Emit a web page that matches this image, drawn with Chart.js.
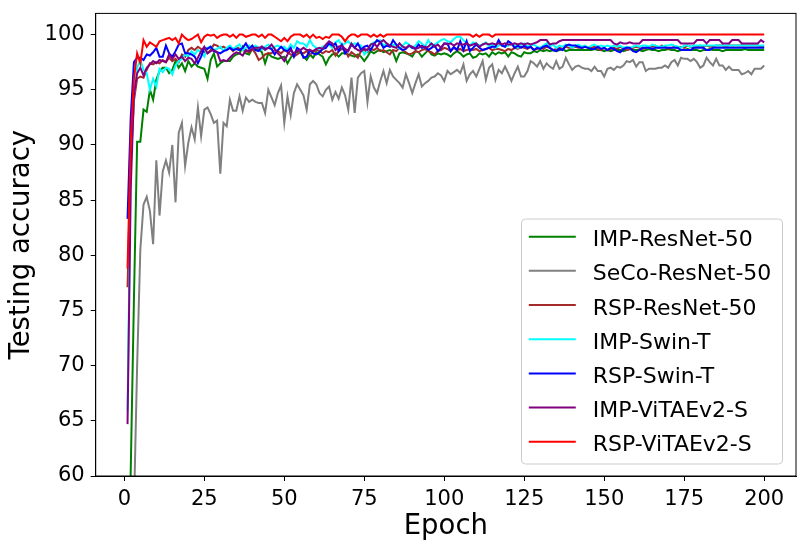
<!DOCTYPE html>
<html>
<head>
<meta charset="utf-8">
<title>Testing accuracy per epoch</title>
<script src="https://cdn.jsdelivr.net/npm/chart.js@4.4.1/dist/chart.umd.min.js"></script>
<style>
  html, body { margin: 0; padding: 0; background: #fff; }
  #wrap { width: 806px; height: 551px; }
</style>
</head>
<body>
<div id="wrap"><canvas id="accChart" width="806" height="551"></canvas></div>
<script>
const FONT = '"DejaVu Sans", sans-serif';

const seriesNames = ['IMP-ResNet-50', 'SeCo-ResNet-50', 'RSP-ResNet-50', 'IMP-Swin-T', 'RSP-Swin-T', 'IMP-ViTAEv2-S', 'RSP-ViTAEv2-S'];
const seriesColors = ['#008000', '#808080', '#a52a2a', '#00ffff', '#0000ff', '#800080', '#ff0000'];
const xTicks = [0, 25, 50, 75, 100, 125, 150, 175, 200];
const yTicks = [60, 65, 70, 75, 80, 85, 90, 95, 100];

// accuracy per epoch (1..200)
const impResnet = [
  42, 60.5, 76, 90.3, 90.3, 93.2, 93.0, 95.0, 94.1, 95.9,
  96.7, 97.0, 97.0, 96.5, 96.8, 97.6, 97.0, 97.4, 96.7, 97.6,
  97.1, 97.4, 97.1, 97.0, 96.9, 96.0, 97.7, 98.3, 97.1, 97.4,
  97.6, 97.6, 97.6, 98.0, 98.2, 98.3, 98.9, 98.3, 98.2, 98.7,
  98.6, 98.7, 98.4, 97.4, 98.3, 98.0, 97.9, 97.8, 97.9, 98.0,
  97.4, 97.9, 98.3, 98.4, 98.4, 98.0, 97.7, 98.2, 97.9, 98.4,
  98.2, 98.0, 97.3, 97.9, 98.2, 98.3, 98.0, 98.3, 98.3, 98.2,
  98.1, 98.0, 98.2, 98.0, 97.6, 98.0, 98.5, 98.3, 98.5, 98.6,
  98.4, 98.5, 98.6, 98.4, 97.6, 98.3, 98.4, 98.3, 98.2, 98.0,
  98.5, 98.4, 98.0, 98.3, 98.6, 98.2, 98.1, 98.3, 98.2, 98.3,
  98.2, 98.0, 98.3, 98.5, 98.3, 98.0, 98.2, 98.3, 97.9, 98.0,
  98.3, 98.2, 98.3, 98.0, 98.4, 98.2, 98.4, 98.3, 98.4, 98.0,
  98.4, 98.3, 98.1, 98.0, 98.4, 98.3, 98.3, 98.5, 98.4, 98.6,
  98.5, 98.6, 98.5, 98.6, 98.5, 98.6, 98.7, 98.5, 98.6, 98.6,
  98.6, 98.6, 98.6, 98.6, 98.6, 98.6, 98.7, 98.6, 98.6, 98.5,
  98.6, 98.5, 98.6, 98.6, 98.6, 98.5, 98.6, 98.7, 98.6, 98.6,
  98.6, 98.5, 98.6, 98.7, 98.6, 98.6, 98.5, 98.6, 98.6, 98.7,
  98.6, 98.6, 98.5, 98.6, 98.6, 98.7, 98.6, 98.6, 98.6, 98.5,
  98.6, 98.6, 98.7, 98.6, 98.6, 98.6, 98.5, 98.6, 98.6, 98.6,
  98.6, 98.6, 98.6, 98.7, 98.6, 98.6, 98.6, 98.6, 98.6, 98.6
];
const secoResnet = [
  22, 38, 57, 70, 80.5, 84.6, 85.3, 84.0, 81.0, 88.6,
  83.6, 87.6, 88.6, 87.5, 90.0, 84.8, 91.1, 92.0, 88.1, 90.2,
  91.6, 90.5, 93.4, 90.8, 93.2, 93.4, 92.8, 92.0, 92.2, 87.4,
  92.0, 91.7, 94.1, 93.1, 93.1, 94.4, 93.1, 94.3, 93.9, 94.1,
  93.9, 93.8, 93.8, 92.9, 95.0, 94.3, 93.6, 94.7, 95.4, 92.0,
  94.4, 92.7, 94.7, 95.5, 95.0, 94.5, 93.2, 95.5, 95.8, 95.5,
  94.7, 94.4, 95.0, 95.3, 94.1, 94.8, 94.2, 95.2, 94.5, 93.2,
  96.1, 92.9, 96.1, 96.5, 96.7, 93.9, 96.2, 95.2, 94.7, 95.8,
  96.7, 95.6, 96.8, 96.2, 95.9, 95.6, 95.2, 96.4, 95.6, 94.7,
  95.6, 96.4, 95.3, 95.6, 95.8, 96.1, 96.2, 96.5, 96.3, 95.8,
  96.7, 96.4, 96.6, 96.8, 96.5, 97.3, 95.8, 96.4, 96.7, 96.2,
  96.9, 97.6, 95.9, 97.0, 97.3, 95.9, 96.8, 96.5, 97.1, 96.5,
  95.8, 96.5, 97.1, 96.2, 96.2, 96.7, 97.6, 97.4, 97.1, 97.6,
  96.9, 97.4, 97.1, 96.9, 97.6, 96.9, 97.1, 97.9, 97.3, 96.8,
  97.1, 97.2, 97.0, 96.9, 96.9, 96.7, 97.1, 96.7, 96.7, 96.2,
  96.9, 97.0, 96.8, 97.1, 97.0, 97.2, 97.6, 97.5, 97.7, 97.1,
  97.5, 97.5, 96.7, 96.9, 96.9, 96.9, 97.0, 97.0, 97.2, 97.0,
  97.5, 97.7, 97.2, 97.9, 97.8, 97.8, 97.6, 97.8, 97.5, 97.0,
  97.2, 97.9, 97.5, 97.2, 97.8, 97.2, 97.2, 96.8, 97.1, 96.8,
  96.8, 96.8, 96.4, 96.5, 96.7, 96.4, 96.9, 96.9, 96.9, 97.2
];
const rspResnet = [
  77.1, 88.5, 94.0, 96.0, 96.2, 96.1, 96.8, 97.4, 97.3, 97.5,
  97.4, 97.7, 97.5, 97.9, 97.6, 97.8, 97.5, 98.2, 98.0, 98.6,
  98.8, 98.6, 98.9, 98.7, 98.4, 98.3, 98.6, 99.1, 99.0, 98.8,
  98.9, 98.7, 98.8, 98.5, 98.9, 98.7, 98.6, 98.5, 98.4, 98.7,
  98.3, 97.7, 97.9, 98.2, 98.3, 98.3, 98.6, 98.5, 98.3, 98.6,
  98.4, 98.2, 98.0, 98.2, 98.4, 98.3, 98.5, 98.2, 98.4, 98.6,
  98.5, 98.3, 98.5, 98.4, 98.6, 98.1, 98.5, 98.7, 98.6, 98.0,
  98.4, 98.2, 97.9, 98.5, 98.6, 98.4, 98.7, 98.6, 98.8, 98.5,
  98.6, 98.4, 98.2, 98.6, 98.5, 98.8, 98.6, 98.4, 98.2, 98.3,
  98.5, 98.4, 98.6, 98.7, 98.5, 98.4, 98.2, 98.5, 98.6, 98.8,
  98.7, 98.5, 98.8, 98.6, 98.7, 98.5, 98.6, 98.7, 98.6, 98.7,
  98.5, 98.6, 98.7, 98.8, 98.6, 98.7, 98.7, 98.6, 98.5, 98.7,
  98.6, 98.8, 98.7, 98.9, 98.8, 98.7, 98.9, 98.6, 98.7, 98.8,
  98.7, 98.9, 98.8, 98.6, 98.7, 98.8, 98.7, 98.9, 98.8, 98.8,
  98.9, 98.8, 98.8, 98.9, 98.8, 98.8, 98.9, 98.7, 98.6, 98.8,
  98.6, 98.7, 98.8, 98.7, 98.9, 98.7, 98.6, 98.7, 98.8, 98.9,
  98.8, 98.7, 98.8, 98.9, 98.9, 99.0, 98.8, 99.0, 98.9, 98.7,
  98.8, 98.9, 98.8, 98.9, 98.8, 99.0, 98.9, 98.8, 98.9, 99.0,
  98.9, 99.0, 98.9, 98.9, 99.0, 99.0, 99.0, 98.9, 99.0, 99.0,
  99.0, 99.0, 99.0, 99.0, 99.0, 99.0, 99.0, 99.0, 98.9, 98.9
];
const impSwin = [
  65.9, 88.0, 94.5, 97.0, 97.7, 96.8, 96.5, 95.0, 96.0, 95.3,
  96.9, 96.6, 97.0, 96.9, 96.4, 97.2, 97.6, 97.8, 98.2, 98.0,
  98.5, 98.2, 98.6, 98.4, 98.0, 98.8, 98.9, 98.6, 98.7, 98.9,
  98.5, 98.8, 99.0, 98.7, 98.9, 99.1, 98.6, 98.8, 99.0, 98.7,
  99.0, 98.8, 98.6, 98.9, 99.1, 98.7, 98.9, 99.0, 98.8, 98.9,
  98.6, 99.1, 98.8, 99.4, 99.2, 99.2, 98.9, 99.5, 99.0, 98.8,
  98.7, 98.9, 99.0, 99.1, 98.8, 99.3, 99.5, 99.0, 99.2, 99.4,
  99.0, 99.2, 99.1, 99.0, 98.2, 98.5, 99.1, 99.3, 99.4, 99.5,
  99.0, 99.2, 98.9, 99.1, 99.0, 98.7, 99.0, 99.3, 99.1, 98.8,
  99.0, 99.4, 99.2, 98.9, 99.5, 99.0, 99.1, 99.3, 99.5, 99.6,
  99.4, 99.3, 99.6, 99.8, 99.8, 99.5, 99.2, 99.0, 99.3, 99.2,
  99.0, 99.1, 99.3, 98.9, 99.1, 98.8, 99.0, 99.1, 98.9, 99.0,
  99.2, 99.0, 98.8, 99.1, 99.2, 98.9, 99.0, 99.1, 98.9, 98.8,
  99.0, 99.2, 98.9, 99.1, 98.8, 99.0, 98.9, 99.1, 99.0, 98.8,
  99.0, 99.1, 98.9, 99.0, 98.8, 99.0, 99.1, 98.9, 99.0, 98.9,
  99.0, 98.9, 99.0, 98.9, 99.0, 98.8, 98.9, 98.8, 98.9, 99.0,
  98.9, 99.0, 99.0, 98.9, 99.1, 99.0, 98.9, 98.9, 99.0, 99.0,
  99.1, 99.0, 98.9, 98.8, 99.0, 99.0, 98.9, 99.0, 99.0, 99.0,
  99.0, 99.0, 99.0, 99.0, 99.0, 99.0, 99.0, 99.0, 99.0, 99.0,
  99.0, 99.0, 99.0, 99.0, 99.0, 99.0, 99.0, 99.0, 99.0, 99.0
];
const rspSwin = [
  83.3, 92.5, 97.5, 97.9, 97.9, 97.7, 98.2, 98.1, 98.4, 98.8,
  98.0, 98.0, 99.0, 98.3, 98.0, 98.5, 99.1, 99.2, 98.3, 98.3,
  98.2, 98.0, 97.4, 98.0, 98.8, 98.7, 98.9, 98.5, 98.4, 98.3,
  98.5, 98.6, 98.8, 98.6, 98.7, 98.6, 98.8, 99.2, 98.7, 99.0,
  98.6, 98.5, 98.9, 98.7, 98.8, 98.7, 98.2, 98.6, 98.9, 98.6,
  98.5, 98.8, 98.0, 98.8, 98.6, 97.9, 98.0, 98.6, 98.3, 98.2,
  98.4, 98.7, 98.8, 99.2, 99.0, 99.2, 98.5, 99.1, 98.3, 98.6,
  99.1, 98.8, 99.2, 98.6, 98.9, 99.0, 98.6, 99.1, 99.5, 99.3,
  98.8, 99.0, 98.9, 99.5, 99.1, 98.8, 98.6, 98.7, 99.0, 98.8,
  98.7, 99.1, 98.8, 98.9, 98.6, 98.8, 99.0, 98.5, 98.8, 99.2,
  99.2, 98.5, 98.9, 98.6, 99.4, 98.6, 99.4, 98.5, 98.8, 99.1,
  98.8, 98.6, 98.7, 98.8, 98.9, 98.9, 99.5, 99.0, 98.9, 99.4,
  99.2, 98.8, 99.0, 98.8, 99.0, 98.8, 98.9, 98.6, 98.8, 98.7,
  98.9, 99.0, 98.8, 98.6, 98.5, 98.7, 98.6, 99.0, 99.1, 99.0,
  99.0, 98.9, 98.8, 98.9, 98.8, 98.7, 98.7, 98.9, 98.7, 98.8,
  98.6, 98.8, 98.7, 98.5, 98.4, 98.7, 98.8, 98.8, 98.5, 98.4,
  98.6, 98.8, 98.8, 98.8, 98.7, 98.8, 98.8, 98.8, 98.8, 98.8,
  98.8, 98.8, 98.8, 98.6, 98.6, 98.6, 98.6, 98.8, 98.8, 98.8,
  98.8, 98.6, 98.6, 98.8, 98.8, 98.8, 98.8, 98.8, 98.8, 98.8,
  98.8, 98.8, 98.8, 98.8, 98.8, 98.8, 98.8, 98.8, 98.8, 98.8
];
const impVitae = [
  64.7, 86.0, 94.5, 96.5, 97.0, 96.3, 97.0, 97.3, 97.6, 97.4,
  97.7, 97.6, 97.5, 98.2, 97.8, 98.2, 97.8, 98.0, 97.6, 97.9,
  97.8, 97.4, 97.9, 98.5, 98.9, 98.3, 98.5, 98.6, 98.4, 97.6,
  97.7, 97.6, 97.9, 98.2, 98.4, 98.3, 98.1, 98.6, 98.5, 98.7,
  98.8, 98.8, 98.9, 98.6, 98.8, 99.1, 98.7, 98.3, 98.0, 97.6,
  98.2, 98.6, 98.3, 98.5, 98.6, 98.8, 98.6, 98.6, 98.5, 98.7,
  98.8, 98.7, 99.1, 99.4, 99.2, 98.6, 98.9, 99.0, 98.7, 98.5,
  99.2, 98.8, 98.6, 98.5, 98.7, 98.6, 99.1, 99.2, 98.9, 99.3,
  99.5, 99.2, 99.0, 98.9, 98.8, 99.2, 98.9, 98.8, 99.0, 98.9,
  98.7, 98.8, 99.0, 98.8, 98.9, 99.2, 98.9, 99.1, 98.8, 99.2,
  99.1, 99.2, 99.0, 99.2, 99.1, 99.1, 99.2, 99.0, 99.1, 99.2,
  98.9, 99.1, 99.2, 99.1, 99.2, 99.1, 99.2, 99.1, 99.2, 99.1,
  99.1, 99.2, 99.1, 99.2, 99.1, 99.2, 99.1, 99.2, 99.3, 99.5,
  99.5, 99.5, 99.1, 99.2, 99.2, 99.4, 99.5, 99.5, 99.5, 99.5,
  99.5, 99.5, 99.5, 99.5, 99.5, 99.5, 99.5, 99.5, 99.5, 99.5,
  99.5, 99.5, 99.2, 99.1, 99.3, 99.2, 99.2, 99.3, 99.2, 99.2,
  99.2, 99.5, 99.5, 99.5, 99.5, 99.5, 99.5, 99.5, 99.5, 99.5,
  99.5, 99.5, 99.5, 99.2, 99.2, 99.2, 99.2, 99.2, 99.5, 99.5,
  99.5, 99.2, 99.5, 99.5, 99.5, 99.5, 99.2, 99.2, 99.2, 99.5,
  99.5, 99.5, 99.2, 99.2, 99.2, 99.2, 99.2, 99.2, 99.5, 99.3
];
const rspVitae = [
  78.8, 90.5, 96.0, 98.3, 97.4, 99.5, 98.9, 99.3, 99.1, 98.9,
  99.4, 99.5, 99.6, 99.7, 99.5, 99.7, 99.2, 100, 99.7, 99.5,
  99.6, 99.8, 100, 99.3, 99.8, 100, 99.9, 100, 99.7, 99.9,
  100, 100, 99.8, 100, 99.7, 100, 100, 99.8, 99.9, 100,
  100, 99.8, 100, 99.7, 100, 100, 99.8, 99.6, 99.4, 99.7,
  99.4, 99.8, 100, 100, 100, 99.8, 100, 99.7, 100, 99.7,
  99.8, 99.6, 99.8, 99.7, 100, 100, 100, 99.8, 99.4, 99.8,
  100, 100, 99.8, 100, 100, 100, 99.8, 100, 99.8, 100,
  99.8, 100, 100, 100, 100, 100, 100, 100, 100, 100,
  100, 100, 100, 100, 100, 100, 100, 100, 100, 100,
  100, 100, 100, 100, 100, 100, 100, 100, 99.8, 100,
  99.8, 100, 100, 100, 99.8, 100, 100, 100, 100, 100,
  100, 100, 100, 100, 100, 100, 100, 100, 100, 100,
  100, 100, 100, 100, 100, 100, 100, 100, 100, 100,
  100, 100, 100, 100, 100, 100, 100, 100, 100, 100,
  100, 100, 100, 100, 100, 100, 100, 100, 100, 100,
  100, 100, 100, 100, 100, 100, 100, 100, 100, 100,
  100, 100, 100, 100, 100, 100, 100, 100, 100, 100,
  100, 100, 100, 100, 100, 100, 100, 100, 100, 100,
  100, 100, 100, 100, 100, 100, 100, 100, 100, 100
];

const allSeries = [impResnet, secoResnet, rspResnet, impSwin, rspSwin, impVitae, rspVitae];
const epochs = impResnet.map((_, i) => i + 1);

// black box around the plot area (top and right spines too)
const frameBox = {
  id: 'frameBox',
  afterDatasetsDraw(chart) {
    const { ctx, chartArea: a } = chart;
    ctx.save();
    ctx.strokeStyle = '#000';
    ctx.lineWidth = 1;
    ctx.strokeRect(a.left, a.top, a.right - a.left, a.bottom - a.top);
    ctx.restore();
  }
};

// legend sitting inside the plot, lower right corner
const boxLegend = {
  id: 'boxLegend',
  afterDraw(chart) {
    const { ctx, chartArea: a } = chart;
    const w = 261, h = 245;
    const x = a.right - 13.5 - w;
    const y = a.bottom - 12 - h;
    ctx.save();
    ctx.fillStyle = 'rgba(255,255,255,0.8)';
    ctx.strokeStyle = '#cccccc';
    ctx.lineWidth = 1;
    ctx.beginPath();
    ctx.roundRect(x, y, w, h, 4);
    ctx.fill();
    ctx.stroke();
    ctx.font = '22px ' + FONT;
    ctx.textBaseline = 'alphabetic';
    chart.data.datasets.forEach((ds, i) => {
      const ry = y + 17.7 + i * 34.17;
      ctx.strokeStyle = ds.borderColor;
      ctx.lineWidth = 2;
      ctx.beginPath();
      ctx.moveTo(x + 7.3, ry);
      ctx.lineTo(x + 54.3, ry);
      ctx.stroke();
      ctx.fillStyle = '#000';
      ctx.fillText(ds.label, x + 71.3, ry + 9.5);
    });
    ctx.restore();
  }
};

const ctx = document.getElementById('accChart').getContext('2d');
const accChart = new Chart(ctx, {
  type: 'line',
  data: {
    datasets: seriesNames.map((name, i) => ({
      label: name,
      data: allSeries[i].map((v, j) => ({ x: epochs[j], y: v })),
      borderColor: seriesColors[i],
      backgroundColor: seriesColors[i],
      borderWidth: 2,
      pointRadius: 0,
      tension: 0,
      fill: false,
      order: seriesNames.length - i
    }))
  },
  options: {
    responsive: false,
    animation: false,
    devicePixelRatio: 1,
    layout: { padding: { top: 13.4, right: 10, bottom: 0, left: 0 } },
    plugins: {
      legend: { display: false },
      tooltip: { enabled: false }
    },
    scales: {
      x: {
        type: 'linear',
        min: -8.95,
        max: 209.95,
        afterBuildTicks: s => { s.ticks = xTicks.map(v => ({ value: v })); },
        afterFit: s => { s.height = 75; s.paddingLeft = 0; s.paddingRight = 0; },
        grid: { display: true, drawOnChartArea: false, drawTicks: true, tickLength: 5, tickColor: '#000', tickWidth: 1 },
        border: { display: true, color: '#000', width: 1 },
        ticks: { color: '#000', font: { family: FONT, size: 21 }, padding: 6, maxRotation: 0, autoSkip: false },
        title: { display: true, text: 'Epoch', color: '#000', font: { family: FONT, size: 27.5 }, padding: { top: 0, bottom: 7.5 } }
      },
      y: {
        type: 'linear',
        min: 60,
        max: 101.92,
        afterBuildTicks: s => { s.ticks = yTicks.map(v => ({ value: v })); },
        // fixed width, and no extra label padding so the plot top stays where it is
        afterFit: s => { s.width = 95.7; s.paddingTop = 0; s.paddingBottom = 0; },
        grid: { display: true, drawOnChartArea: false, drawTicks: true, tickLength: 5, tickColor: '#000', tickWidth: 1 },
        border: { display: true, color: '#000', width: 1 },
        ticks: { color: '#000', font: { family: FONT, size: 21 }, padding: 6 },
        title: { display: true, text: 'Testing accuracy', color: '#000', font: { family: FONT, size: 27.5 }, padding: { top: 5.5, bottom: 0 } }
      }
    }
  },
  plugins: [frameBox, boxLegend]
});
</script>
</body>
</html>
